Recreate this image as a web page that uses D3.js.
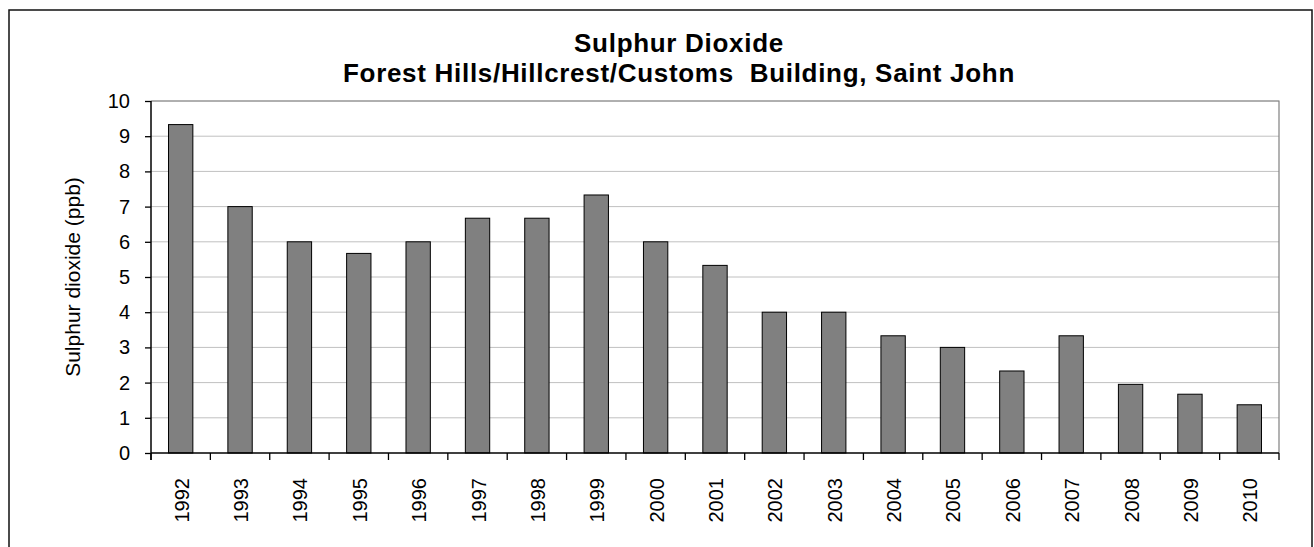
<!DOCTYPE html>
<html>
<head>
<meta charset="utf-8">
<script src="https://cdn.jsdelivr.net/npm/d3@7"></script>
<style>
  body { margin: 0; background: #fff; }
  svg { display: block; font-family: Arial, "Liberation Sans", sans-serif; }
  .tick text { fill: #000; }
</style>
</head>
<body>
<div id="chart"></div>
<script>
const years = ['1992', '1993', '1994', '1995', '1996', '1997', '1998', '1999', '2000', '2001',
  '2002', '2003', '2004', '2005', '2006', '2007', '2008', '2009', '2010'];
const so2Values = [9.33, 7.0, 6.0, 5.67, 6.0, 6.67, 6.67, 7.33, 6.0, 5.33,
  4.0, 4.0, 3.33, 3.0, 2.33, 3.33, 1.95, 1.67, 1.37];
const yTicks = [0, 1, 2, 3, 4, 5, 6, 7, 8, 9, 10];
const titleLines = ['Sulphur Dioxide', 'Forest Hills/Hillcrest/Customs  Building, Saint John'];
const yAxisTitle = 'Sulphur dioxide (ppb)';

class BarChart {
  constructor(_config, _data) {
    this.config = {
      parentElement: _config.parentElement,
      containerWidth: 1314,
      containerHeight: 547,
      margin: { top: 101, right: 35, bottom: 94, left: 151 },
    };
    this.data = _data;
    this.initVis();
  }

  /* create svg, scales and axes */
  initVis() {
    const vis = this;
    vis.width = vis.config.containerWidth - vis.config.margin.left - vis.config.margin.right;
    vis.height = vis.config.containerHeight - vis.config.margin.top - vis.config.margin.bottom;

    vis.svg = d3.select(vis.config.parentElement).append('svg')
      .attr('width', vis.config.containerWidth)
      .attr('height', vis.config.containerHeight);

    // outer chart border (bottom edge runs off the picture)
    vis.svg.append('rect')
      .attr('x', 9).attr('y', 10)
      .attr('width', 1303).attr('height', 560)
      .attr('fill', 'none')
      .attr('stroke', '#111')
      .attr('stroke-width', 1.5);

    vis.chartArea = vis.svg.append('g')
      .attr('transform', `translate(${vis.config.margin.left},${vis.config.margin.top})`);

    vis.xScale = d3.scaleBand()
      .domain(vis.data.map((d) => d.year))
      .range([0, vis.width])
      .paddingInner(0.59)
      .paddingOuter(0.295);
    vis.yScale = d3.scaleLinear()
      .domain([0, 10])
      .range([vis.height, 0]);

    vis.renderVis();
  }

  renderVis() {
    const vis = this;

    /* gridlines */
    vis.chartArea.append('g')
      .selectAll('line')
      .data(yTicks.filter((t) => t > 0))
      .join('line')
      .attr('x1', 0).attr('x2', vis.width)
      .attr('y1', (d) => vis.yScale(d)).attr('y2', (d) => vis.yScale(d))
      .attr('stroke', '#c0c0c0')
      .attr('stroke-width', 1);

    /* plot area border on top and right */
    vis.chartArea.append('path')
      .attr('d', `M0,0H${vis.width}V${vis.height}`)
      .attr('fill', 'none')
      .attr('stroke', '#808080')
      .attr('stroke-width', 1.2);

    /* bars */
    vis.chartArea.selectAll('.bar')
      .data(vis.data)
      .join('rect')
      .attr('class', 'bar')
      .attr('x', (d) => vis.xScale(d.year))
      .attr('y', (d) => vis.yScale(d.value))
      .attr('width', vis.xScale.bandwidth())
      .attr('height', (d) => vis.height - vis.yScale(d.value))
      .attr('fill', '#808080')
      .attr('stroke', '#000')
      .attr('stroke-width', 1);

    /* y axis */
    const yAxis = d3.axisLeft(vis.yScale)
      .tickValues(yTicks)
      .tickSize(6)
      .tickPadding(15)
      .tickFormat(d3.format('d'));
    const yAxisGroup = vis.chartArea.append('g').call(yAxis);
    yAxisGroup.select('.domain').remove();
    yAxisGroup.append('line')
      .attr('x1', 0).attr('x2', 0)
      .attr('y1', 0).attr('y2', vis.height + 7)
      .attr('stroke', '#000').attr('stroke-width', 1.5);
    yAxisGroup.selectAll('.tick line').attr('stroke', '#000').attr('stroke-width', 1.3);
    yAxisGroup.selectAll('.tick text')
      .attr('font-size', 20)
      .attr('font-family', 'Arial, "Liberation Sans", sans-serif');

    /* x axis: ticks at category boundaries */
    const step = vis.xScale.step();
    vis.chartArea.append('g')
      .selectAll('line')
      .data(d3.range(years.length + 1))
      .join('line')
      .attr('x1', (i) => i * step).attr('x2', (i) => i * step)
      .attr('y1', vis.height).attr('y2', vis.height + 7)
      .attr('stroke', '#000').attr('stroke-width', 1.3);
    vis.chartArea.append('line')
      .attr('x1', 0).attr('x2', vis.width)
      .attr('y1', vis.height).attr('y2', vis.height)
      .attr('stroke', '#000').attr('stroke-width', 1.5);

    vis.chartArea.append('g')
      .selectAll('text')
      .data(vis.data)
      .join('text')
      .attr('transform', (d) => `translate(${vis.xScale(d.year) + vis.xScale.bandwidth() / 2 + 8},${vis.height + 25})rotate(-90)`)
      .attr('text-anchor', 'end')
      .attr('font-size', 20)
      .text((d) => d.year);

    /* y axis title */
    vis.svg.append('text')
      .attr('transform', `translate(80,${vis.config.margin.top + vis.height / 2})rotate(-90)`)
      .attr('text-anchor', 'middle')
      .attr('font-size', 21)
      .text(yAxisTitle);

    /* chart title */
    vis.svg.append('g')
      .selectAll('text')
      .data(titleLines)
      .join('text')
      .attr('x', 679)
      .attr('y', (d, i) => 52 + i * 30)
      .attr('text-anchor', 'middle')
      .attr('font-size', 26)
      .attr('font-weight', 'bold')
      .attr('letter-spacing', 0.7)
      .style('white-space', 'pre')
      .text((d) => d);
  }
}

const data = years.map((y, i) => ({ year: y, value: so2Values[i] }));
new BarChart({ parentElement: '#chart' }, data);
</script>
</body>
</html>
